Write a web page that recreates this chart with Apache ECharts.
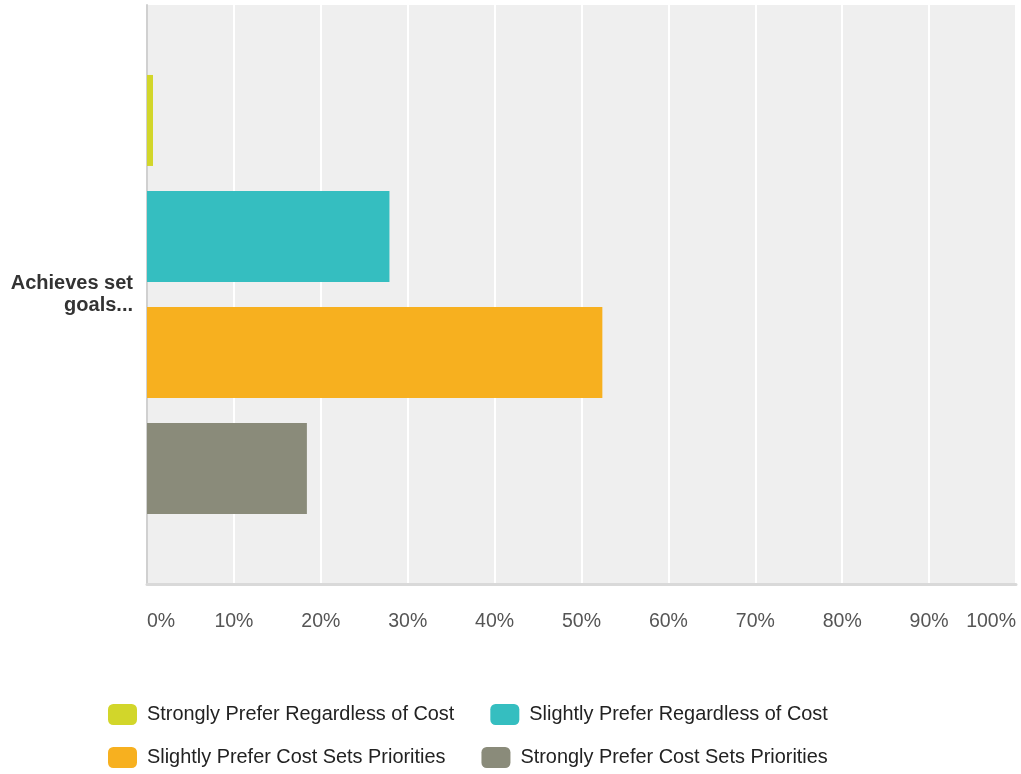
<!DOCTYPE html>
<html>
<head>
<meta charset="utf-8">
<script src="https://cdn.jsdelivr.net/npm/echarts@6/dist/echarts.min.js"></script>
<style>
html,body{margin:0;padding:0;background:#fff;}
#chart{width:1021px;height:774px;}
</style>
</head>
<body>
<div id="chart"></div>
<script>
const categories = ['Achieves set\ngoals...'];
const seriesNames = [
  'Strongly Prefer Regardless of Cost',
  'Slightly Prefer Regardless of Cost',
  'Slightly Prefer Cost Sets Priorities',
  'Strongly Prefer Cost Sets Priorities'
];
const values = [0.69, 27.9, 52.4, 18.4];
const tickMin = 0, tickMax = 100, tickStep = 10;

const colors = ['#d2d62a', '#35bec0', '#f7b01f', '#8a8b7a'];
const FONT = "Arial, 'Liberation Sans', Helvetica, sans-serif";

const chart = echarts.init(document.getElementById('chart'), null, {renderer: 'canvas'});

const legendCommon = {
  orient: 'horizontal',
  left: 103,
  icon: 'roundRect',
  itemWidth: 29,
  itemHeight: 21,
  itemGap: 36,
  selectedMode: false,
  textStyle: {fontFamily: FONT, fontSize: 19.9, color: '#222', padding: [0, 0, 0, 5]}
};

chart.setOption({
  animation: false,
  color: colors,
  grid: {
    left: 147, right: 5, top: 5, bottom: 190,
    show: true, backgroundColor: '#efefef', borderWidth: 0
  },
  legend: [
    Object.assign({}, legendCommon, {top: 699, data: seriesNames.slice(0, 2)}),
    Object.assign({}, legendCommon, {top: 742, data: seriesNames.slice(2, 4)})
  ],
  xAxis: {
    type: 'value',
    min: tickMin, max: tickMax, interval: tickStep,
    axisLine: {show: true, lineStyle: {color: '#d9d9d9', width: 3}},
    axisTick: {show: false},
    splitLine: {show: true, lineStyle: {color: '#ffffff', width: 2}},
    axisLabel: {
      formatter: '{value}%',
      fontFamily: FONT, fontSize: 19.5, color: '#555',
      margin: 28,
      alignMinLabel: 'left', alignMaxLabel: 'right'
    }
  },
  yAxis: {
    type: 'category',
    data: categories,
    inverse: true,
    axisLine: {show: true, lineStyle: {color: '#d0d0d0', width: 2}},
    axisTick: {show: false},
    axisLabel: {
      fontFamily: FONT, fontSize: 20, fontWeight: 'bold', color: '#333',
      margin: 14, lineHeight: 22, align: 'right',
      padding: [2, 0, 0, 0]
    }
  },
  series: seriesNames.map((name, i) => ({
    name: name,
    type: 'bar',
    data: [values[i]],
    barWidth: 91,
    barGap: '27.5%',
    itemStyle: {color: colors[i]}
  }))
});
</script>
</body>
</html>
